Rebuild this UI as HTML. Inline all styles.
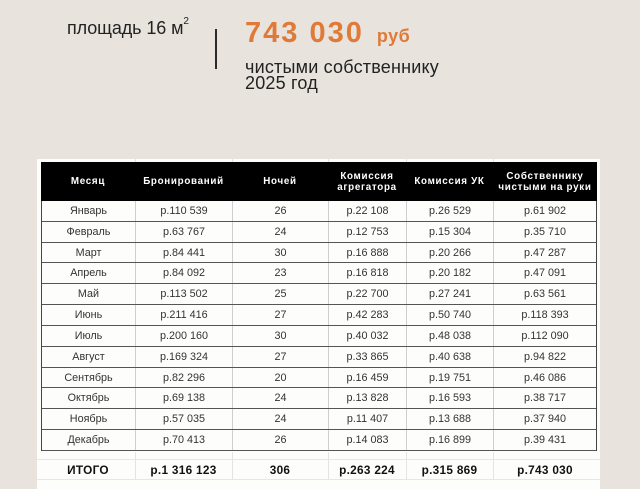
<!DOCTYPE html>
<html><head><meta charset="utf-8">
<style>
html,body{margin:0;padding:0;}
body{width:640px;height:480px;overflow:hidden;background:#e8e4dd;position:relative;font-family:"Liberation Sans","Noto Sans CJK SC",sans-serif;}
.abs{position:absolute;}
.t1{left:67px;top:18px;font-size:18px;color:#222;letter-spacing:-0.1px;white-space:nowrap;}
.t1 sup{font-size:10px;vertical-align:top;position:relative;top:-2px;}
.vline{left:215px;top:29px;width:2px;height:40px;background:#2a2a2a;}
.big{left:245px;top:17px;font-size:29px;font-weight:bold;color:#e07a38;letter-spacing:2px;white-space:nowrap;}
.big span{font-size:18px;letter-spacing:0.5px;margin-left:13px;}
.sub{left:245px;top:59px;font-size:18px;line-height:16px;color:#222;white-space:nowrap;letter-spacing:0.2px;}
.paper{left:37px;top:159px;width:563px;height:330px;background:#fdfdfc;}
.hdr{left:41px;top:162px;width:556px;height:39px;background:#000;display:flex;}
.hdr div{color:#fff;font-weight:bold;font-size:9.8px;letter-spacing:0.7px;line-height:11px;display:flex;align-items:center;justify-content:center;text-align:center;}
.body{left:41px;top:201px;width:554px;border-left:1px solid #444;border-right:1px solid #444;}
.row{display:flex;height:20.83px;box-sizing:border-box;border-bottom:1px solid #555;}
.row div{font-size:10.8px;color:#333;display:flex;align-items:center;justify-content:center;border-right:1px solid #cfcfcf;box-sizing:border-box;}
.row div:last-child{border-right:none;}
.c1{width:94px;}.c2{width:97px;}.c3{width:96px;}.c4{width:78px;}.c5{width:87px;}.c6{width:104px;flex:1;}
.tot{left:41px;top:460px;width:556px;height:20px;display:flex;}
.tot div{font-weight:bold;font-size:11.8px;color:#111;letter-spacing:0.3px;display:flex;align-items:center;justify-content:center;}
.gv{position:absolute;width:1px;background:#e4e4e4;}
.gh{position:absolute;height:1px;background:#e6e6e6;left:37px;width:563px;}
</style></head><body>
<div class="abs t1">площадь 16 м<sup>2</sup></div>
<div class="abs vline"></div>
<div class="abs big">743 030<span>руб</span></div>
<div class="abs sub">чистыми собственнику<br>2025 год</div>

<div class="abs paper"></div>
<div class="gv" style="left:135px;top:159px;height:3px"></div>
<div class="gv" style="left:232px;top:159px;height:3px"></div>
<div class="gv" style="left:328px;top:159px;height:3px"></div>
<div class="gv" style="left:406px;top:159px;height:3px"></div>
<div class="gv" style="left:493px;top:159px;height:3px"></div>
<div class="gv" style="left:135px;top:452px;height:28px"></div>
<div class="gv" style="left:232px;top:452px;height:28px"></div>
<div class="gv" style="left:328px;top:452px;height:28px"></div>
<div class="gv" style="left:406px;top:452px;height:28px"></div>
<div class="gv" style="left:493px;top:452px;height:28px"></div>
<div class="gh" style="top:459px"></div>
<div class="gh" style="top:479px"></div>

<div class="abs hdr">
<div class="c1">Месяц</div>
<div class="c2">Бронирований</div>
<div class="c3">Ночей</div>
<div class="c4">Комиссия<br>агрегатора</div>
<div class="c5">Комиссия УК</div>
<div class="c6">Собственнику<br>чистыми на руки</div>
</div>

<div class="abs body">
<div class="row"><div class="c1">Январь</div><div class="c2">р.110 539</div><div class="c3">26</div><div class="c4">р.22 108</div><div class="c5">р.26 529</div><div class="c6">р.61 902</div></div>
<div class="row"><div class="c1">Февраль</div><div class="c2">р.63 767</div><div class="c3">24</div><div class="c4">р.12 753</div><div class="c5">р.15 304</div><div class="c6">р.35 710</div></div>
<div class="row"><div class="c1">Март</div><div class="c2">р.84 441</div><div class="c3">30</div><div class="c4">р.16 888</div><div class="c5">р.20 266</div><div class="c6">р.47 287</div></div>
<div class="row"><div class="c1">Апрель</div><div class="c2">р.84 092</div><div class="c3">23</div><div class="c4">р.16 818</div><div class="c5">р.20 182</div><div class="c6">р.47 091</div></div>
<div class="row"><div class="c1">Май</div><div class="c2">р.113 502</div><div class="c3">25</div><div class="c4">р.22 700</div><div class="c5">р.27 241</div><div class="c6">р.63 561</div></div>
<div class="row"><div class="c1">Июнь</div><div class="c2">р.211 416</div><div class="c3">27</div><div class="c4">р.42 283</div><div class="c5">р.50 740</div><div class="c6">р.118 393</div></div>
<div class="row"><div class="c1">Июль</div><div class="c2">р.200 160</div><div class="c3">30</div><div class="c4">р.40 032</div><div class="c5">р.48 038</div><div class="c6">р.112 090</div></div>
<div class="row"><div class="c1">Август</div><div class="c2">р.169 324</div><div class="c3">27</div><div class="c4">р.33 865</div><div class="c5">р.40 638</div><div class="c6">р.94 822</div></div>
<div class="row"><div class="c1">Сентябрь</div><div class="c2">р.82 296</div><div class="c3">20</div><div class="c4">р.16 459</div><div class="c5">р.19 751</div><div class="c6">р.46 086</div></div>
<div class="row"><div class="c1">Октябрь</div><div class="c2">р.69 138</div><div class="c3">24</div><div class="c4">р.13 828</div><div class="c5">р.16 593</div><div class="c6">р.38 717</div></div>
<div class="row"><div class="c1">Ноябрь</div><div class="c2">р.57 035</div><div class="c3">24</div><div class="c4">р.11 407</div><div class="c5">р.13 688</div><div class="c6">р.37 940</div></div>
<div class="row"><div class="c1">Декабрь</div><div class="c2">р.70 413</div><div class="c3">26</div><div class="c4">р.14 083</div><div class="c5">р.16 899</div><div class="c6">р.39 431</div></div>
</div>

<div class="abs tot">
<div class="c1">ИТОГО</div>
<div class="c2">р.1 316 123</div>
<div class="c3">306</div>
<div class="c4">р.263 224</div>
<div class="c5">р.315 869</div>
<div class="c6">р.743 030</div>
</div>
</body></html>
